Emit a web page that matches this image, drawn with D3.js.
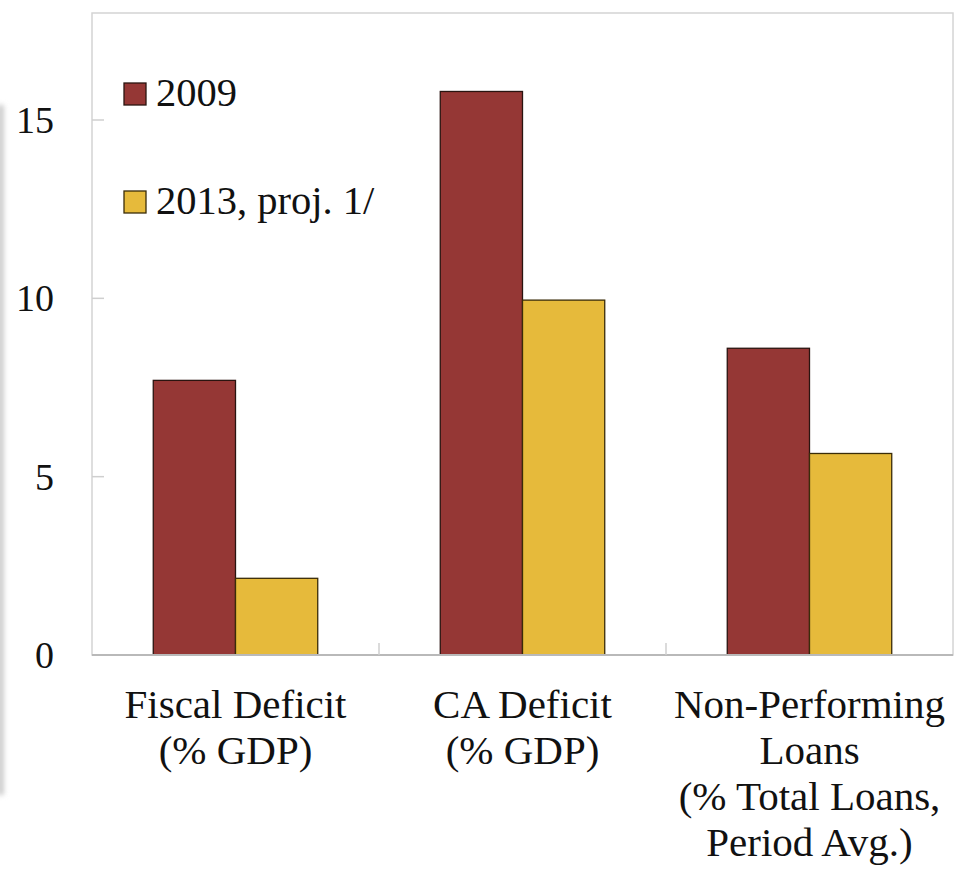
<!DOCTYPE html>
<html>
<head>
<meta charset="utf-8">
<script src="https://cdn.jsdelivr.net/npm/d3@7"></script>
<style>
  html, body { margin: 0; padding: 0; background: #fff; }
  svg { display: block; }
</style>
</head>
<body>
<svg id="chart" width="955" height="869"></svg>
<script>
// Categories (each label split into its display lines)
const categories = ["Fiscal Deficit", "CA Deficit", "Non-Performing Loans"];
const categoryLines = [
  ["Fiscal Deficit", "(% GDP)"],
  ["CA Deficit", "(% GDP)"],
  ["Non-Performing", "Loans", "(% Total Loans,", "Period Avg.)"]
];
const seriesNames = ["2009", "2013, proj. 1/"];
const values2009 = [7.7, 15.8, 8.6];
const values2013 = [2.15, 9.95, 5.65];
const yTicks = [0, 5, 10, 15];
const colors = ["#953735", "#E6BA3B"];
const strokes = ["#2a1410", "#3a2c08"];

const FONT = "'Liberation Serif', 'Times New Roman', Tinos, 'DejaVu Serif', 'Noto Serif', serif";

const svg = d3.select("#chart")
  .style("font-family", FONT)
  .attr("font-family", FONT);
const x0 = 92, x1 = 953, yTop = 13, yBot = 655;

// faint shadow along the left edge
const defs = svg.append("defs");
defs.append("filter").attr("id", "edgeBlur")
  .attr("x", "-5").attr("y", "-0.2").attr("width", "11").attr("height", "1.4")
  .append("feGaussianBlur").attr("stdDeviation", 2.6);
svg.append("rect")
  .attr("x", -3).attr("y", 105).attr("width", 7).attr("height", 690)
  .attr("fill", "#cdcdcd").attr("filter", "url(#edgeBlur)");

const x = d3.scaleBand().domain(categories).range([x0, x1]).padding(0);
const xs = d3.scaleBand().domain(seriesNames).range([0, x.bandwidth()])
  .paddingInner(0).paddingOuter(0.745);
const y = d3.scaleLinear().domain([0, 18]).range([yBot, yTop]);

// plot frame
svg.append("rect")
  .attr("x", x0).attr("y", yTop).attr("width", x1 - x0).attr("height", yBot - yTop)
  .attr("fill", "none").attr("stroke", "#d4d4d4").attr("stroke-width", 1.5);

// y axis ticks (inward) and labels
const yAxis = svg.append("g");
yAxis.selectAll("line").data(yTicks).join("line")
  .attr("x1", x0).attr("x2", x0 + 12)
  .attr("y1", d => y(d)).attr("y2", d => y(d))
  .attr("stroke", "#cfcfcf").attr("stroke-width", 1.5);
yAxis.selectAll("text").data(yTicks).join("text")
  .attr("x", 54).attr("y", d => y(d))
  .attr("dy", "0.34em")
  .attr("text-anchor", "end")
  .attr("font-size", 38)
  .attr("fill", "#111")
  .text(d => d);

// bars
const data = categories.map((c, i) => ({ cat: c, vals: [values2009[i], values2013[i]] }));
const groups = svg.append("g").selectAll("g").data(data).join("g")
  .attr("transform", d => `translate(${x(d.cat)},0)`);
groups.selectAll("rect")
  .data(d => d.vals.map((v, j) => ({ name: seriesNames[j], v, j })))
  .join("rect")
  .attr("x", d => xs(d.name))
  .attr("y", d => y(d.v))
  .attr("width", xs.bandwidth())
  .attr("height", d => yBot - y(d.v))
  .attr("fill", d => colors[d.j])
  .attr("stroke", d => strokes[d.j])
  .attr("stroke-width", 1.3);

// baseline and category dividers
svg.append("line")
  .attr("x1", x0).attr("x2", x1).attr("y1", yBot).attr("y2", yBot)
  .attr("stroke", "#b9b9b9").attr("stroke-width", 2);
svg.append("g").selectAll("line").data(categories.slice(1)).join("line")
  .attr("x1", d => x(d)).attr("x2", d => x(d))
  .attr("y1", yBot).attr("y2", yBot - 12)
  .attr("stroke", "#cfcfcf").attr("stroke-width", 1.5);

// category labels
const labels = svg.append("g").selectAll("text").data(categories).join("text")
  .attr("text-anchor", "middle")
  .attr("font-size", 41)
  .attr("fill", "#111")
  .attr("transform", d => `translate(${x(d) + x.bandwidth() / 2},718)`);
labels.selectAll("tspan")
  .data((d, i) => categoryLines[i])
  .join("tspan")
  .attr("x", 0)
  .attr("y", (d, i) => i * 46)
  .text(d => d);

// legend
const legend = svg.append("g").selectAll("g").data(seriesNames).join("g")
  .attr("transform", (d, i) => `translate(124,${83 + i * 108})`);
legend.append("rect")
  .attr("width", 22).attr("height", 22)
  .attr("fill", (d, i) => colors[i])
  .attr("stroke", (d, i) => strokes[i])
  .attr("stroke-width", 1.3);
legend.append("text")
  .attr("x", 32).attr("y", 23)
  .attr("font-size", 40.5)
  .attr("fill", "#111")
  .text(d => d);
</script>
</body>
</html>
